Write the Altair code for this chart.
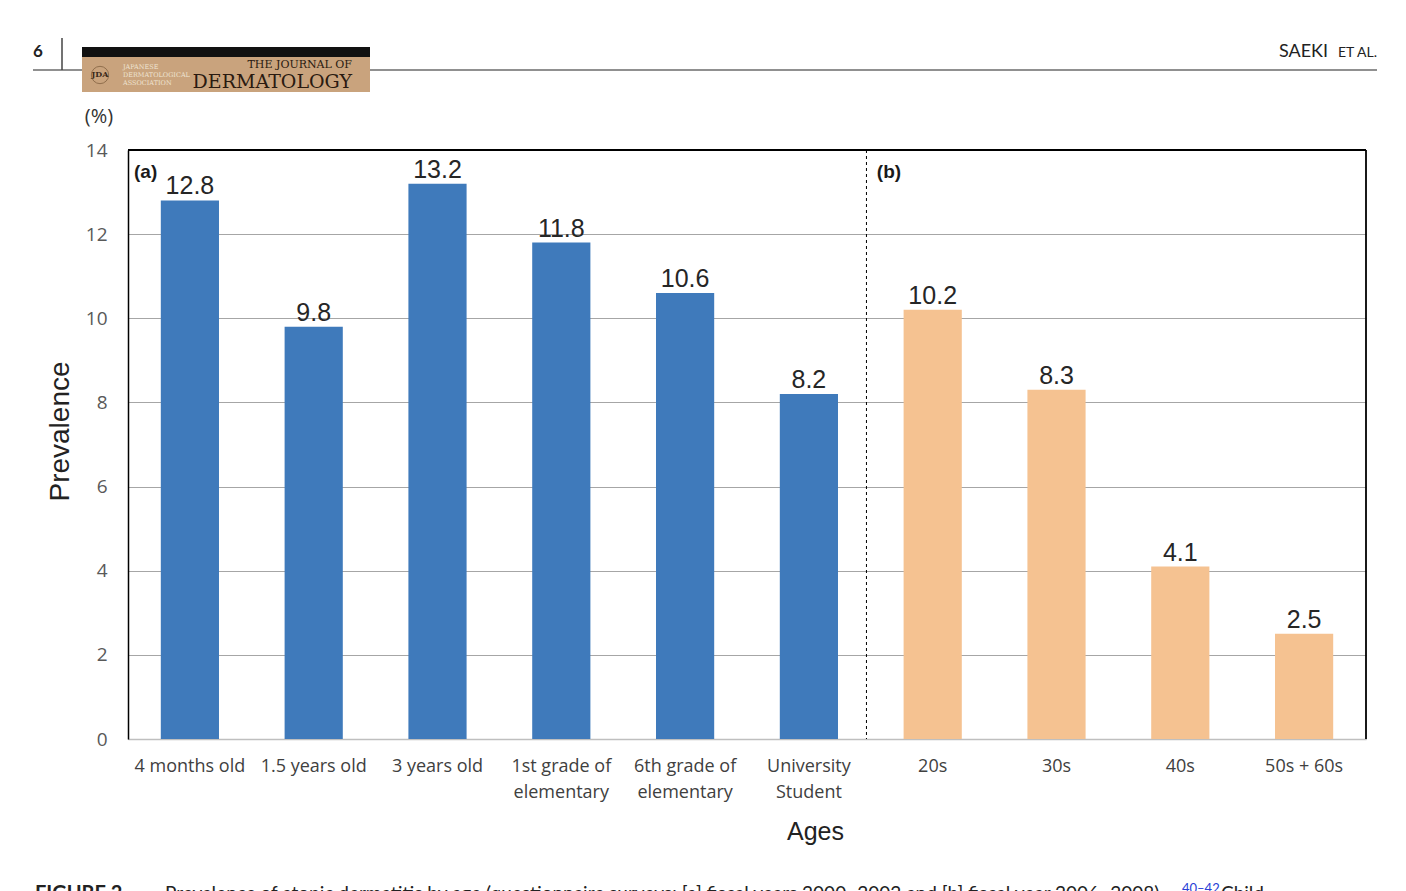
import altair as alt
import pandas as pd

categories = ["4 months old", "1.5 years old", "3 years old", "1st grade of|elementary",
              "6th grade of|elementary", "University|Student", "20s", "30s", "40s", "50s + 60s"]
values = [12.8, 9.8, 13.2, 11.8, 10.6, 8.2, 10.2, 8.3, 4.1, 2.5]
groups = ["a", "a", "a", "a", "a", "a", "b", "b", "b", "b"]
panel_labels = ["(a)", "(b)"]
panel_starts = ["4 months old", "20s"]
divider_after = ["University|Student"]
y_ticks = [0, 2, 4, 6, 8, 10, 12, 14]

BLUE = "#3F7ABB"
ORANGE = "#F5C291"

df = pd.DataFrame({"Ages": categories, "Prevalence": values, "group": groups})
panels = pd.DataFrame({"Ages": panel_starts, "label": panel_labels})
div_df = pd.DataFrame({"Ages": divider_after})

xscale = alt.Scale(domain=categories, paddingInner=0, paddingOuter=0)
yscale = alt.Scale(domain=[0, 14], nice=False)

x_enc = alt.X("Ages:N", sort=categories, scale=xscale,
              axis=alt.Axis(title="Ages", labelAngle=0, labelExpr="split(datum.label, '|')",
                            ticks=False, domainColor="#BFBFBF", domainWidth=1.5,
                            labelFont="Open Sans", labelFontSize=18, labelColor="#404040",
                            labelPadding=18, labelLineHeight=26, labelBaseline="top",
                            titleFont="Liberation Sans", titleFontSize=25, titleFontWeight="normal",
                            titleColor="#222222", titleX=687, titleY=92, titleBaseline="middle"))
y_enc = alt.Y("Prevalence:Q", scale=yscale,
              axis=alt.Axis(title="Prevalence", values=y_ticks, ticks=False,
                            domainColor="#000000", domainWidth=1.5,
                            gridColor="#A6A6A6", gridWidth=1.2,
                            labelFont="Open Sans", labelFontSize=19, labelColor="#595959",
                            labelPadding=21,
                            titleFont="Liberation Sans", titleFontSize=28, titleFontWeight="normal",
                            titleColor="#222222", titleAngle=-90, titleX=-68, titleY=281,
                            titleAlign="center", titleBaseline="middle"))

bars = alt.Chart(df).mark_bar(width=alt.RelativeBandSize(0.47)).encode(
    x=x_enc, y=y_enc,
    color=alt.Color("group:N", scale=alt.Scale(domain=["a", "b"], range=[BLUE, ORANGE]), legend=None),
)

value_text = alt.Chart(df).mark_text(baseline="alphabetic", dy=-6, fontSize=25,
                                     font="Liberation Sans", color="#262626").encode(
    x=alt.X("Ages:N", sort=categories, scale=xscale),
    y=alt.Y("Prevalence:Q", scale=yscale),
    text=alt.Text("Prevalence:Q", format=".1f"),
)

panel_text = alt.Chart(panels).mark_text(align="left", baseline="middle", fontSize=19,
                                         fontWeight="bold", font="Liberation Sans",
                                         color="#1a1a1a", dx=6).encode(
    x=alt.X("Ages:N", sort=categories, scale=xscale, bandPosition=0),
    y=alt.value(22),
    text="label:N",
)

divider = alt.Chart(div_df).mark_rule(
    color="#000000", strokeWidth=1, strokeDash=[3, 3]).encode(
    x=alt.X("Ages:N", sort=categories, scale=xscale, bandPosition=0.965),
)

top_border = alt.Chart(pd.DataFrame({"v": [14]})).mark_rule(color="#000000", strokeWidth=1.8).encode(
    y=alt.Y("v:Q", scale=yscale))
right_border = alt.Chart(pd.DataFrame({"v": [14]})).mark_rule(color="#000000", strokeWidth=1.8).encode(
    x=alt.value(1238), y=alt.value(0), y2=alt.value(589))

one = pd.DataFrame({"k": [0]})

def label(text, x, y, size, **kw):
    return alt.Chart(one).mark_text(text=text, fontSize=size, **kw).encode(
        x=alt.value(x), y=alt.value(y))

percent = label("(%)", -29, -33, 20, font="Open Sans", color="#333333", baseline="middle")

# page header
page_num = label("6", -90, -98, 17, font="Lato", fontWeight="bold", color="#222222", baseline="middle")
vbar = alt.Chart(one).mark_rule(color="#444444", strokeWidth=1.5).encode(
    x=alt.value(-66), y=alt.value(-112), y2=alt.value(-80))
hline = alt.Chart(one).mark_rule(color="#222222", strokeWidth=1.2).encode(
    x=alt.value(-95), x2=alt.value(1249), y=alt.value(-80))
logo_black = alt.Chart(one).mark_rect(color="#111111").encode(
    x=alt.value(-46), x2=alt.value(242), y=alt.value(-103), y2=alt.value(-93))
logo_tan = alt.Chart(one).mark_rect(color="#C9A37D").encode(
    x=alt.value(-46), x2=alt.value(242), y=alt.value(-93), y2=alt.value(-58))
logo_circle = alt.Chart(one).mark_point(shape="circle", size=300, color="#7a5a3a",
                                        strokeWidth=1, filled=False).encode(
    x=alt.value(-28), y=alt.value(-75))
logo_jda = label("JDA", -28, -75, 8, font="DejaVu Serif", color="#3a2a1a", baseline="middle",
                 fontWeight="bold")
logo_small1 = label("JAPANESE", -5, -83, 6.5, font="DejaVu Serif", color="#efe3d3",
                    align="left", baseline="middle")
logo_small2 = label("DERMATOLOGICAL", -5, -75, 6.5, font="DejaVu Serif", color="#efe3d3",
                    align="left", baseline="middle")
logo_small3 = label("ASSOCIATION", -5, -67, 6.5, font="DejaVu Serif", color="#efe3d3",
                    align="left", baseline="middle")
journal_of = label("THE JOURNAL OF", 224, -85, 11, font="DejaVu Serif", color="#2a1a10",
                   align="right", baseline="middle")
dermatology = label("DERMATOLOGY", 224, -68, 19, font="DejaVu Serif", color="#2a1a10",
                    align="right", baseline="middle")
saeki = label("SAEKI", 1200, -98, 18, font="Lato", color="#222222", align="right", baseline="middle")
etal = label("ET AL.", 1249, -97, 14, font="Lato", color="#222222", align="right", baseline="middle")

caption_fig = label("FIGURE 2", -93, 750, 20, font="Lato", fontWeight="bold", color="#222222",
                    align="left", baseline="alphabetic")
caption = label("Prevalence of atopic dermatitis by age (questionnaire surveys; [a] fiscal years "
                "2000–2002 and [b] fiscal year 2006–2008)", 37, 750, 19, font="Lato",
                color="#222222", align="left", baseline="alphabetic")
caption_ref = label("40–42", 1054, 743, 13, font="Lato", color="#2a3fd6", align="left",
                    baseline="alphabetic")
caption_end = label("Child", 1093, 750, 19, font="Lato", color="#222222", align="left",
                    baseline="alphabetic")

chart = alt.layer(
    bars, value_text, panel_text, divider, top_border, right_border, percent,
    hline, vbar, page_num, logo_black, logo_tan, logo_circle, logo_jda,
    logo_small1, logo_small2, logo_small3, journal_of, dermatology, saeki, etal,
    caption_fig, caption, caption_ref, caption_end,
).properties(
    width=1238, height=589,
    autosize=alt.AutoSizeParams(type="none"),
    padding={"left": 128, "top": 150, "right": 40, "bottom": 152},
    background="white",
).configure_view(stroke=None)

chart.save("out.html", embed_options={"renderer": "svg", "actions": False})
